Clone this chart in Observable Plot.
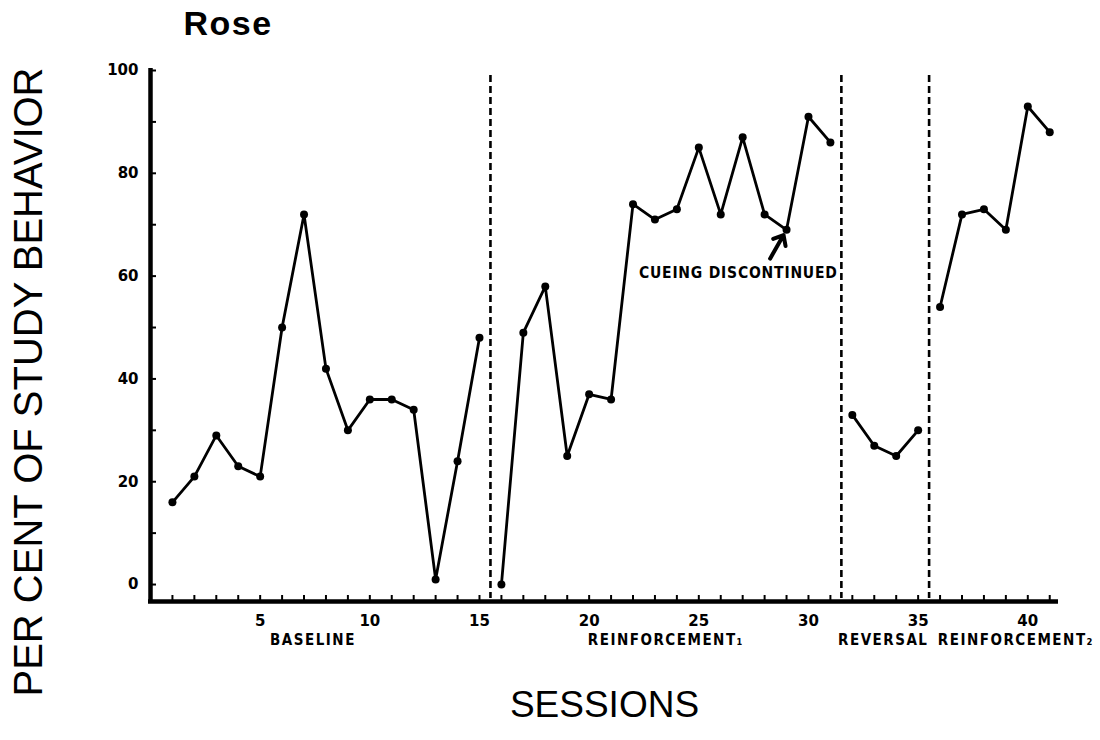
<!DOCTYPE html>
<html>
<head>
<meta charset="utf-8">
<script src="https://cdn.jsdelivr.net/npm/d3@7"></script>
<script src="https://cdn.jsdelivr.net/npm/@observablehq/plot@0.6"></script>
<style>
  html, body { margin: 0; padding: 0; background: #fff; }
  #chart { width: 1100px; height: 740px; }
</style>
</head>
<body>
<div id="chart"></div>
<script>
// ---- data ----
const title = "Rose";
const yTitle = "PER CENT OF STUDY BEHAVIOR";
const xTitle = "SESSIONS";

const sessions = [1,2,3,4,5,6,7,8,9,10,11,12,13,14,15,
                  16,17,18,19,20,21,22,23,24,25,26,27,28,29,30,31,
                  32,33,34,35,
                  36,37,38,39,40,41];
const percent = [16,21,29,23,21,50,72,42,30,36,36,34,1,24,48,
                 0,49,58,25,37,36,74,71,73,85,72,87,72,69,91,86,
                 33,27,25,30,
                 54,72,73,69,93,88];

const phaseNames = ["BASELINE", "REINFORCEMENT\u2081", "REVERSAL", "REINFORCEMENT\u2082"];
const phaseFirst = [1, 16, 32, 36];
const phaseLast  = [15, 31, 35, 41];
const phaseLabelShift = [-13, 0, -2, 21];

const xTickLabels = [5, 10, 15, 20, 25, 30, 35, 40];
const xTickMarks = sessions;
const yTickLabels = [0, 20, 40, 60, 80, 100];
const yTickMarks = [0, 10, 20, 30, 40, 50, 60, 70, 80, 90, 100];

const annotationText = "CUEING DISCONTINUED";
const annotationSession = 29;
const annotationTextPos = {x: 26.8, y: 60.6};
const annotationArrowFrom = {x: 28.25, y: 63.4};

const xDomain = [0, 41.4];
const yDomain = [-3.3, 100];

// ---- build table ----
const data = sessions.map((s, i) => ({
  session: s,
  value: percent[i],
  phase: phaseNames[phaseFirst.findIndex((f, j) => s >= f && s <= phaseLast[j])]
}));
const phases = phaseNames.map((name, i) => ({
  name, mid: (phaseFirst[i] + phaseLast[i]) / 2, shift: phaseLabelShift[i]
}));
const boundaries = phaseLast.slice(0, -1).map(v => v + 0.5);
const annoPoint = data.find(d => d.session === annotationSession);

const W = 1100, H = 740;
const mL = 150, mR = 42, mT = 70, mB = 139;
const plotW = W - mL - mR, plotH = H - mT - mB;
const tickLen = 6;
const smallFont = "DejaVu Sans Condensed, DejaVu Sans";

const svg = Plot.plot({
  width: W, height: H,
  marginLeft: mL, marginRight: mR, marginTop: mT, marginBottom: mB,
  style: {fontFamily: "DejaVu Sans", fontWeight: "bold", fontSize: "14px", color: "black", background: "white", overflow: "visible"},
  x: {domain: xDomain, axis: null},
  y: {domain: yDomain, axis: null},
  marks: [
    // phase change lines
    Plot.ruleX(boundaries, {x: d => d, stroke: "black", strokeWidth: 2.6, strokeDasharray: "7,4", insetTop: 5, insetBottom: 3}),
    // axis lines
    Plot.ruleX([xDomain[0]], {stroke: "black", strokeWidth: 4.5, insetTop: -2}),
    Plot.ruleY([yDomain[0]], {stroke: "black", strokeWidth: 4.5, insetLeft: -2}),
    // inward tick marks
    Plot.tickY(yTickMarks, {y: d => d, stroke: "black", strokeWidth: 2, insetRight: plotW - tickLen}),
    Plot.tickX(xTickMarks, {x: d => d, stroke: "black", strokeWidth: 2, insetTop: plotH - tickLen}),
    // tick labels
    Plot.text(xTickLabels, {x: d => d, text: d => String(d), frameAnchor: "bottom", dy: 20,
      fontFamily: "DejaVu Sans", fontWeight: "bold", fontSize: 15, textAnchor: "middle", lineAnchor: "middle"}),
    Plot.text(yTickLabels, {y: d => d, text: d => String(d), frameAnchor: "left", dx: -12,
      fontFamily: "DejaVu Sans", fontWeight: "bold", fontSize: 15, textAnchor: "end", lineAnchor: "middle"}),
    // data
    Plot.line(data, {x: "session", y: "value", z: "phase", stroke: "black", strokeWidth: 2.8, strokeLinejoin: "round"}),
    Plot.dot(data, {x: "session", y: "value", r: 4, fill: "black", stroke: null}),
    // annotation
    Plot.arrow([annoPoint], {x1: () => annotationArrowFrom.x, y1: () => annotationArrowFrom.y,
      x2: "session", y2: "value", insetEnd: 6, stroke: "black", strokeWidth: 4, headLength: 9, headAngle: 80}),
    Plot.text([annotationText], {x: () => annotationTextPos.x, y: () => annotationTextPos.y, text: d => d,
      fontFamily: smallFont, fontWeight: "bold", fontSize: 15.5, textAnchor: "middle", lineAnchor: "middle"}),
    // phase labels (one mark each so each can carry its own shift)
    ...phases.map(p => Plot.text([p], {x: "mid", text: "name", frameAnchor: "bottom", dy: 39, dx: p.shift,
      fontFamily: smallFont, fontWeight: "bold", fontSize: 15, textAnchor: "middle", lineAnchor: "middle"})),
    // titles
    Plot.text([title], {frameAnchor: "top-left", text: d => d, dx: 33, dy: -46, textAnchor: "start", lineAnchor: "middle",
      fontFamily: "Liberation Sans", fontWeight: "bold", fontSize: 34}),
    Plot.text([yTitle], {frameAnchor: "left", text: d => d, rotate: -90, dx: -121, dy: 46, textAnchor: "middle", lineAnchor: "middle",
      fontFamily: "Liberation Sans", fontWeight: "normal", fontSize: 40}),
    Plot.text([xTitle], {frameAnchor: "bottom", text: d => d, dy: 104, textAnchor: "middle", lineAnchor: "middle",
      fontFamily: "Liberation Sans", fontWeight: "normal", fontSize: 37})
  ]
});

// letter spacing for the lettered labels
d3.select(svg).selectAll("text").each(function() {
  const t = this.textContent;
  if (phaseNames.includes(t)) d3.select(this).attr("letter-spacing", "1.5");
  if (t === annotationText) d3.select(this).attr("letter-spacing", "0.8");
  if (t === title) d3.select(this).attr("letter-spacing", "1.5");
});

document.getElementById("chart").appendChild(svg);
</script>
</body>
</html>
